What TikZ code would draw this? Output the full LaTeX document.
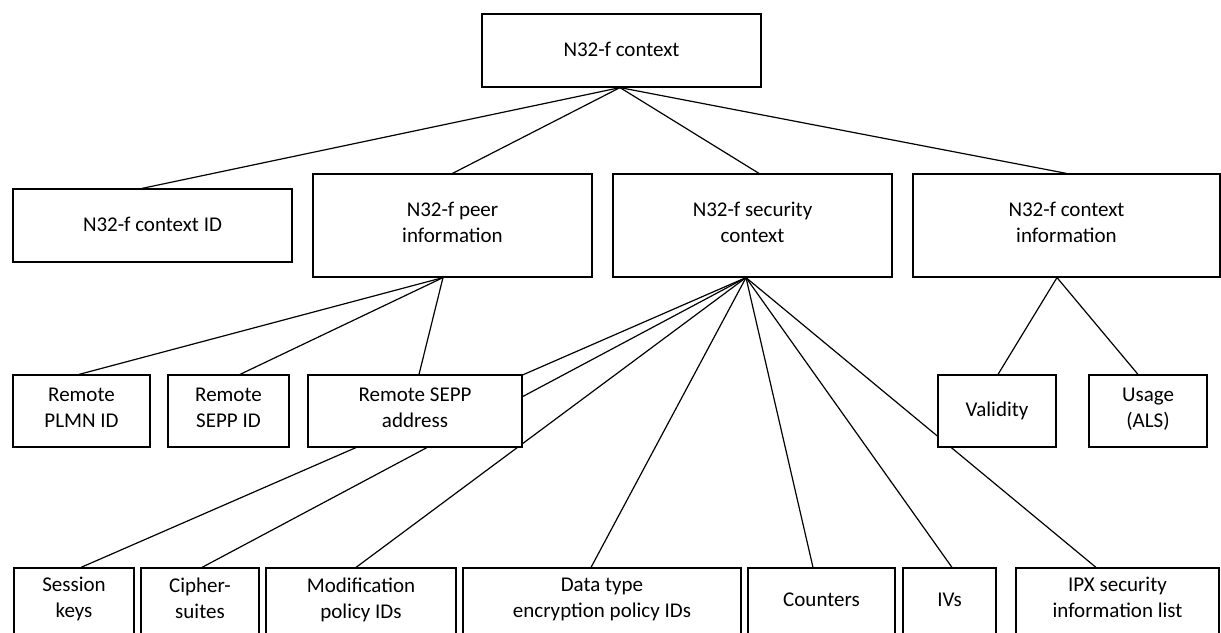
\documentclass[tikz,border=0pt]{standalone}
\usepackage{fontspec}
\setmainfont{Carlito}
\pgfdeclarelayer{bg}
\pgfdeclarelayer{lines}
\pgfsetlayers{bg,lines,main}
\begin{document}
\begin{tikzpicture}[x=1pt,y=-1pt,
  box/.style={draw,fill=white,line width=1.2pt,inner sep=0pt,align=center,
    font=\fontsize{21}{26}\selectfont,
    execute at begin node={\rule{0pt}{18pt}},
    execute at end node={\rule[-6.5pt]{0pt}{6.5pt}}},
  sz/.style 2 args={minimum width=#1pt,minimum height=#2pt},
  link/.style={line width=1.2pt}]
\useasboundingbox (0,0) rectangle (1221,632);
\begin{pgfonlayer}{bg}
\fill[white] (0,0) rectangle (1221,632);
\end{pgfonlayer}
\clip (0,0) rectangle (1221,632);
% level 0
\node[box,sz={279}{73}] (root) at (621.5,50.5) {N32-f context};
% level 1
\node[box,sz={279}{73}]  (cid)  at (152.5,225.5)  {N32-f context ID};
\node[box,sz={279}{103}] (peer) at (452.5,225.5)  {N32-f peer\\information};
\node[box,sz={279}{103}] (sec)  at (752.5,225.5)  {N32-f security\\context};
\node[box,sz={307}{103}] (inf)  at (1066.5,225.5) {N32-f context\\information};
% level 2
\node[box,sz={137}{72}] (plmn)   at (81.5,411)  {Remote\\PLMN ID};
\node[box,sz={121}{72}] (seppid) at (228.5,411) {Remote\\SEPP ID};
\node[box,sz={214}{72}] (addr)   at (415,411)   {Remote SEPP\\address};
\node[box,sz={118}{72}] (valid)  at (997,411)   {Validity};
\node[box,sz={118}{72}] (usage)  at (1148,411)  {Usage\\(ALS)};
% level 3
\node[box,sz={120}{66}] (sess)  at (74,601)     {Session\\keys};
\node[box,sz={118}{66}] (ciph)  at (200,601)    {Cipher-\\suites};
\node[box,sz={190}{66}] (mod)   at (361,601)    {Modification\\policy IDs};
\node[box,sz={278}{66}] (dtype) at (602,601)    {Data type\\encryption policy IDs};
\node[box,sz={147}{66}] (cnt)   at (821.5,601)  {Counters};
\node[box,sz={93}{66}]  (ivs)   at (949.5,601)  {IVs};
\node[box,sz={203}{66}] (ipx)   at (1117.5,601) {IPX security\\information list};
% connectors
\begin{pgfonlayer}{lines}
\draw[link] ([xshift=-1.5pt]root.south) -- ([xshift=-10.5pt]cid.north);
\draw[link] ([xshift=-1.5pt]root.south) -- (peer.north);
\draw[link] ([xshift=-1.5pt]root.south) -- ([xshift=6.5pt]sec.north);
\draw[link] ([xshift=-1.5pt]root.south) -- (inf.north);
\draw[link] ([xshift=-9.5pt]peer.south) -- ([xshift=-2.5pt]plmn.north);
\draw[link] ([xshift=-9.5pt]peer.south) -- ([xshift=11.5pt]seppid.north);
\draw[link] ([xshift=-9.5pt]peer.south) -- ([xshift=4pt]addr.north);
\draw[link] ([xshift=-6.5pt]sec.south) -- ([xshift=7pt]sess.north);
\draw[link] ([xshift=-6.5pt]sec.south) -- ([xshift=2pt]ciph.north);
\draw[link] ([xshift=-6.5pt]sec.south) -- ([xshift=-5pt]mod.north);
\draw[link] ([xshift=-6.5pt]sec.south) -- ([xshift=-11pt]dtype.north);
\draw[link] ([xshift=-6.5pt]sec.south) -- ([xshift=-8.5pt]cnt.north);
\draw[link] ([xshift=-6.5pt]sec.south) -- ([xshift=2.5pt]ivs.north);
\draw[link] ([xshift=-6.5pt]sec.south) -- ([xshift=-21.5pt]ipx.north);
\draw[link] ([xshift=-9.5pt]inf.south) -- ([xshift=1pt]valid.north);
\draw[link] ([xshift=-9.5pt]inf.south) -- ([xshift=-10pt]usage.north);
\end{pgfonlayer}
\end{tikzpicture}
\end{document}
